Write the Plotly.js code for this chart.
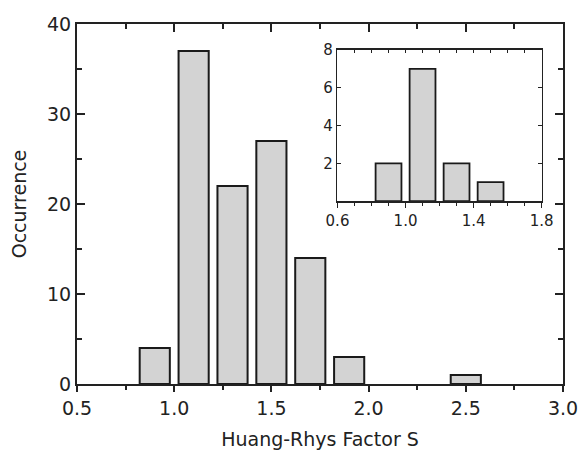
<!DOCTYPE html>
<html>
<head>
<meta charset="utf-8">
<script src="https://cdn.plot.ly/plotly-3.0.1.min.js"></script>
<style>html,body{margin:0;padding:0;background:#fff}#chart{width:579px;height:450px}</style>
</head>
<body>
<div id="chart"></div>
<script>
// Main histogram
const mainBins = [0.9, 1.1, 1.3, 1.5, 1.7, 1.9, 2.5];
const mainCounts = [4, 37, 22, 27, 14, 3, 1];
// Inset histogram
const insetBins = [0.9, 1.1, 1.3, 1.5];
const insetCounts = [2, 7, 2, 1];
const mainXTicks = [0.5, 1.0, 1.5, 2.0, 2.5, 3.0];
const mainYTicks = [0, 10, 20, 30, 40];
const insetXTicks = [0.6, 1.0, 1.4, 1.8];
const insetYTicks = [2, 4, 6, 8];

const ink = '#222';
const fam = 'DejaVu Sans, Liberation Sans, Arial, sans-serif';

const traces = [
  {type: 'bar', x: mainBins, y: mainCounts, width: 0.155, xaxis: 'x', yaxis: 'y',
   marker: {color: '#d3d3d3', line: {color: '#1a1a1a', width: 2}}, hoverinfo: 'skip'},
  {type: 'bar', x: insetBins, y: insetCounts, width: 0.152, xaxis: 'x3', yaxis: 'y3',
   marker: {color: '#d3d3d3', line: {color: '#1a1a1a', width: 1.8}}, hoverinfo: 'skip'},
  // carriers so the mirrored top axes (ticks pointing inward) get drawn; they draw nothing
  {type: 'scatter', mode: 'none', x: mainBins, y: mainCounts, xaxis: 'x2', yaxis: 'y', hoverinfo: 'skip'},
  {type: 'scatter', mode: 'none', x: insetBins, y: insetCounts, xaxis: 'x4', yaxis: 'y3', hoverinfo: 'skip'}
];

const layout = {
  width: 579, height: 450,
  margin: {l: 77, r: 16, t: 24, b: 66},
  paper_bgcolor: '#fff', plot_bgcolor: '#fff',
  showlegend: false,
  font: {family: fam, color: ink},
  xaxis: {
    domain: [0, 1], anchor: 'y', range: [0.5, 3.0],
    tickvals: mainXTicks, ticktext: mainXTicks.map(v => v.toFixed(1)),
    ticks: 'outside', ticklen: 6, tickwidth: 2, tickcolor: ink,
    minor: {dtick: 0.25, tick0: 0.5, ticks: 'outside', ticklen: 4, tickwidth: 2, tickcolor: ink, showgrid: false},
    showline: true, linewidth: 2, linecolor: ink, showgrid: false, zeroline: false,
    tickfont: {size: 19, family: fam, color: ink},
    title: {text: 'Huang-Rhys Factor S', font: {size: 19, family: fam, color: ink}, standoff: 16}
  },
  xaxis2: {
    overlaying: 'x', anchor: 'y', side: 'top', range: [0.5, 3.0],
    tickvals: mainXTicks, showticklabels: false,
    ticks: 'inside', ticklen: 8, tickwidth: 2, tickcolor: ink,
    minor: {dtick: 0.25, tick0: 0.5, ticks: 'inside', ticklen: 5, tickwidth: 2, tickcolor: ink, showgrid: false},
    showline: true, linewidth: 2, linecolor: ink, showgrid: false, zeroline: false
  },
  yaxis: {
    domain: [0, 1], anchor: 'x', range: [0, 40],
    tickvals: mainYTicks,
    ticks: 'inside', ticklen: 8, tickwidth: 2, tickcolor: ink,
    minor: {dtick: 5, tick0: 0, ticks: 'inside', ticklen: 5, tickwidth: 2, tickcolor: ink, showgrid: false},
    showline: true, linewidth: 2, linecolor: ink, mirror: 'ticks', showgrid: false, zeroline: false,
    tickfont: {size: 19, family: fam, color: ink},
    title: {text: 'Occurrence', font: {size: 19, family: fam, color: ink}, standoff: 15}
  },
  xaxis3: {
    domain: [0.536, 0.956], anchor: 'y3', range: [0.6, 1.8],
    tickvals: insetXTicks, ticktext: insetXTicks.map(v => v.toFixed(1)),
    ticks: 'outside', ticklen: 5, tickwidth: 1.5, tickcolor: ink,
    minor: {dtick: 0.1, tick0: 0.6, ticks: 'outside', ticklen: 3, tickwidth: 1.5, tickcolor: ink, showgrid: false},
    showline: true, linewidth: 1.8, linecolor: ink, showgrid: false, zeroline: false,
    tickfont: {size: 15, family: fam, color: ink}
  },
  xaxis4: {
    overlaying: 'x3', anchor: 'y3', side: 'top', range: [0.6, 1.8],
    tickvals: insetXTicks, showticklabels: false,
    ticks: 'inside', ticklen: 3, tickwidth: 1.5, tickcolor: ink,
    minor: {dtick: 0.1, tick0: 0.6, ticks: 'inside', ticklen: 3, tickwidth: 1.5, tickcolor: ink, showgrid: false},
    showline: true, linewidth: 1.8, linecolor: ink, showgrid: false, zeroline: false
  },
  yaxis3: {
    domain: [0.508, 0.928], anchor: 'x3', range: [0, 8],
    tickvals: insetYTicks,
    ticks: 'inside', ticklen: 4, tickwidth: 1.5, tickcolor: ink,
    showline: true, linewidth: 1.8, linecolor: ink, mirror: 'ticks', showgrid: false, zeroline: false,
    tickfont: {size: 15, family: fam, color: ink}
  }
};

Plotly.newPlot('chart', traces, layout, {staticPlot: true, displayModeBar: false});
</script>
</body>
</html>
